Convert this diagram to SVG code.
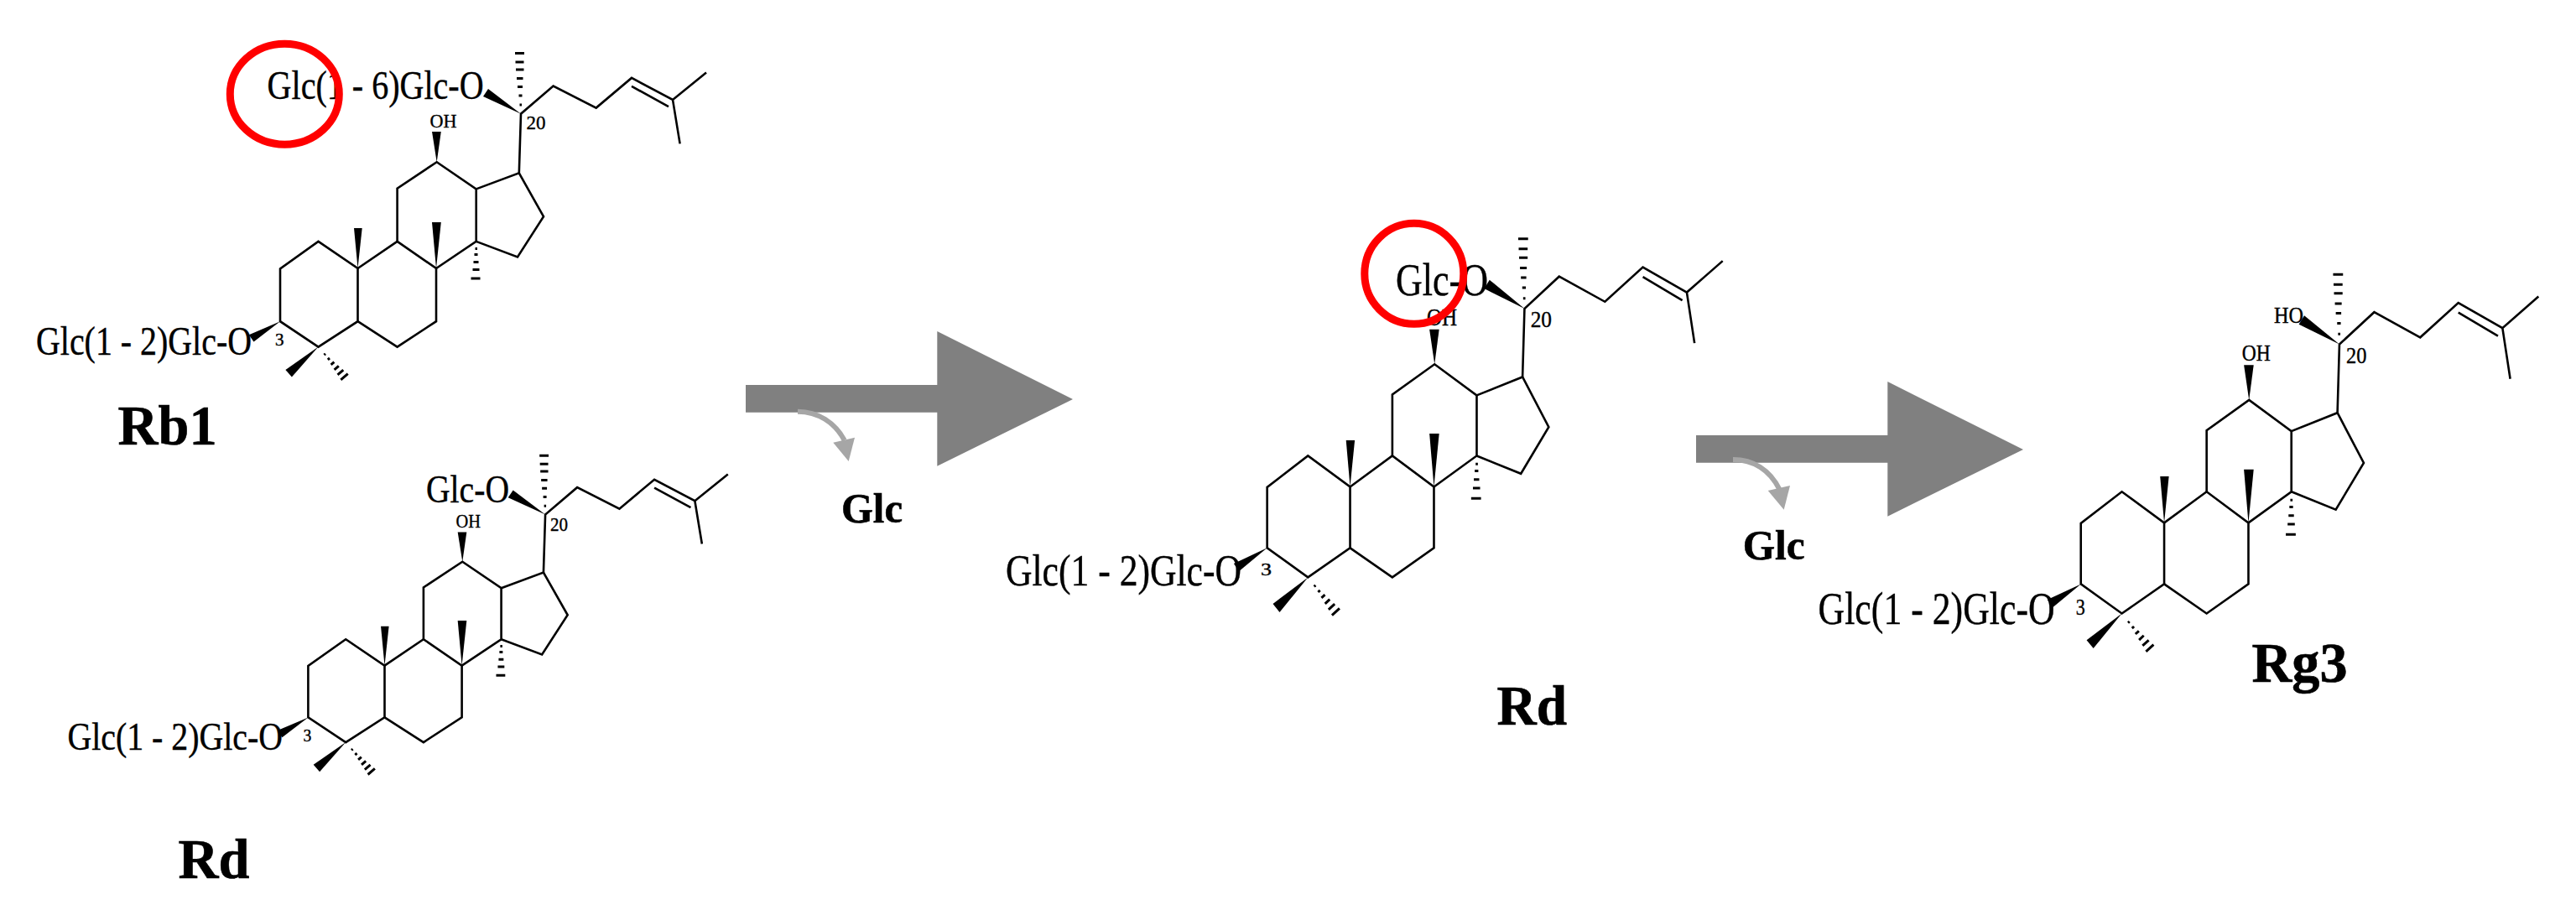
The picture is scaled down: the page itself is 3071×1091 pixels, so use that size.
<svg xmlns="http://www.w3.org/2000/svg" xmlns:xlink="http://www.w3.org/1999/xlink" width="3071" height="1091" viewBox="0 0 3071 1091">
<style>
.bond{fill:none;stroke:#000;stroke-width:2.6;stroke-linejoin:miter;vector-effect:non-scaling-stroke}
.hash{fill:none;stroke:#000;stroke-width:3;vector-effect:non-scaling-stroke}
.wedge{fill:#000}
.t{font-family:"Liberation Serif","Times New Roman",serif;fill:#000;stroke:#000;stroke-width:.4}
.b{font-weight:bold;stroke-width:.6}
.ring{fill:none;stroke:#f00;stroke-width:9}
.big{fill:#808080}
.small{fill:#a6a6a6}
.curve{fill:none;stroke:#a6a6a6;stroke-width:6}
</style>
<defs>
<g id="skeleton">
<path class="bond" d="M334,383.2L334,320.4 379.5,287.9 426.5,320 426.5,383.2 379.5,413.6Z"/>
<path class="bond" d="M426.5,320L473.6,287.9 520,320 520,383.2 473.6,413.6 426.5,383.2"/>
<path class="bond" d="M473.6,287.9L473.6,224.6 520.7,193.2 567.7,225.4 567.7,287.9 520,320"/>
<path class="bond" d="M567.7,225.4L618.8,206.4 648,258.2 617,306.4 567.7,287.9"/>
<path class="bond" d="M618.8,206.4L621,135.7 659.6,102.5 710.7,128.6 753,92.9 802,118.9 842,86.4M802,118.9L810.6,171.4M753,102.9L797,127.1"/>
<polygon class="wedge" points="621,135.7 576,115 582,106"/>
<polygon class="wedge" points="520.7,193.2 515,157.1 525.8,157.1"/>
<polygon class="wedge" points="426.5,320 422,272 431.7,272"/>
<polygon class="wedge" points="520,320 515,265 525.8,265"/>
<polygon class="wedge" points="334,383.2 296.8,399.3 302.5,407.5"/>
<polygon class="wedge" points="379.5,413.6 340.4,441 347.9,449.6"/>
<path class="hash" d="M614,63.6h11M614.5,74h10M615,83h9.5M616,93.6h7.5M617,103.6h6M618.5,114h4M619.5,125h2.5"/>
<path class="hash" d="M566.5,296.4h2.5M565.5,303.6h4M564.5,312.5h6M563.5,321.4h8M561.5,332h11"/>
<path class="hash" d="M386.4,423.2L388,421.8M390.8,428.9L393,427M394.6,434.8L398.4,431.6M398.6,440.9L403.8,436.3M402.5,446.9L409.3,441.1M406.3,452.9L414.7,445.7"/>
</g>
</defs>
<g id="mol-rb1">
<use href="#skeleton" xlink:href="#skeleton"/>
<text class="t" x="318.6" y="117.9" font-size="48" textLength="258" lengthAdjust="spacingAndGlyphs">Glc(1 - 6)Glc-O</text>
<text class="t" x="43" y="422.5" font-size="48" textLength="257" lengthAdjust="spacingAndGlyphs">Glc(1 - 2)Glc-O</text>
<text class="t" x="512.6" y="151.8" font-size="24" textLength="32" lengthAdjust="spacingAndGlyphs">OH</text>
<text class="t" x="627.4" y="153.6" font-size="24" textLength="23" lengthAdjust="spacingAndGlyphs">20</text>
<text class="t" x="328" y="411.8" font-size="20" textLength="10.5" lengthAdjust="spacingAndGlyphs">3</text>
<text class="t b" x="140.6" y="529.6" font-size="68" textLength="118" lengthAdjust="spacingAndGlyphs">Rb1</text>
<ellipse class="ring" cx="339.3" cy="112.2" rx="65" ry="60"/>
</g>
<g id="mol-rd-left">
<use href="#skeleton" xlink:href="#skeleton" transform="matrix(.985 0 0 .977 38.4 481)"/>
<text class="t" x="508" y="598.6" font-size="47" textLength="99" lengthAdjust="spacingAndGlyphs">Glc-O</text>
<text class="t" x="80.4" y="893.6" font-size="47" textLength="256.6" lengthAdjust="spacingAndGlyphs">Glc(1 - 2)Glc-O</text>
<text class="t" x="543.6" y="629.3" font-size="24" textLength="29.5" lengthAdjust="spacingAndGlyphs">OH</text>
<text class="t" x="656" y="632.5" font-size="24" textLength="21" lengthAdjust="spacingAndGlyphs">20</text>
<text class="t" x="361.6" y="883.6" font-size="20" textLength="9.8" lengthAdjust="spacingAndGlyphs">3</text>
<text class="t b" x="212.5" y="1046.8" font-size="68" textLength="85" lengthAdjust="spacingAndGlyphs">Rd</text>
</g>
<g id="mol-rd-center">
<use href="#skeleton" xlink:href="#skeleton" transform="matrix(1.069 0 0 1.153 1153.6 211.5)"/>
<text class="t" x="1664" y="351.5" font-size="54" textLength="110" lengthAdjust="spacingAndGlyphs">Glc-O</text>
<text class="t" x="1199" y="698" font-size="53" textLength="281" lengthAdjust="spacingAndGlyphs">Glc(1 - 2)Glc-O</text>
<text class="t" x="1701" y="388" font-size="29" textLength="36" lengthAdjust="spacingAndGlyphs">OH</text>
<text class="t" x="1824.7" y="389.8" font-size="27" textLength="25.3" lengthAdjust="spacingAndGlyphs">20</text>
<text class="t" x="1503" y="686" font-size="22" textLength="13" lengthAdjust="spacingAndGlyphs">3</text>
<text class="t b" x="1784.5" y="864" font-size="67" textLength="83.5" lengthAdjust="spacingAndGlyphs">Rd</text>
<ellipse class="ring" cx="1685.8" cy="326.3" rx="59" ry="60"/>
</g>
<g id="mol-rg3">
<use href="#skeleton" xlink:href="#skeleton" transform="matrix(1.074 0 0 1.155 2122 253.8)"/>
<text class="t" x="2711" y="384.6" font-size="28" textLength="35" lengthAdjust="spacingAndGlyphs">HO</text>
<text class="t" x="2672.8" y="430.4" font-size="28" textLength="34" lengthAdjust="spacingAndGlyphs">OH</text>
<text class="t" x="2797" y="432.9" font-size="27" textLength="24.4" lengthAdjust="spacingAndGlyphs">20</text>
<text class="t" x="2474.8" y="732.9" font-size="28" textLength="11" lengthAdjust="spacingAndGlyphs">3</text>
<text class="t" x="2167.6" y="744" font-size="55" textLength="282" lengthAdjust="spacingAndGlyphs">Glc(1 - 2)Glc-O</text>
<text class="t b" x="2684.5" y="812.5" font-size="67" textLength="114" lengthAdjust="spacingAndGlyphs">Rg3</text>
</g>
<g id="connectors">
<polygon class="big" points="889,459 1117.3,459 1117.3,395 1279,476 1117.3,555.7 1117.3,491.7 889,491.7"/>
<path class="curve" d="M951,490.7C975,491 995,503 1006.7,525"/>
<polygon class="small" points="993.3,527.7 1019,521.7 1011.7,550"/>
<polygon class="big" points="2022,519 2250.3,519 2250.3,455 2412,536 2250.3,615.7 2250.3,551.7 2022,551.7"/>
<path class="curve" d="M2066,548C2090,548 2110,560 2121.7,584"/>
<polygon class="small" points="2107.7,585 2134,579 2126.7,607.7"/>
</g>
<g id="label-glc-1"><text class="t b" x="1003" y="623.3" font-size="50" textLength="73" lengthAdjust="spacingAndGlyphs">Glc</text></g>
<g id="label-glc-2"><text class="t b" x="2077.7" y="666.7" font-size="50" textLength="74" lengthAdjust="spacingAndGlyphs">Glc</text></g>
</svg>
